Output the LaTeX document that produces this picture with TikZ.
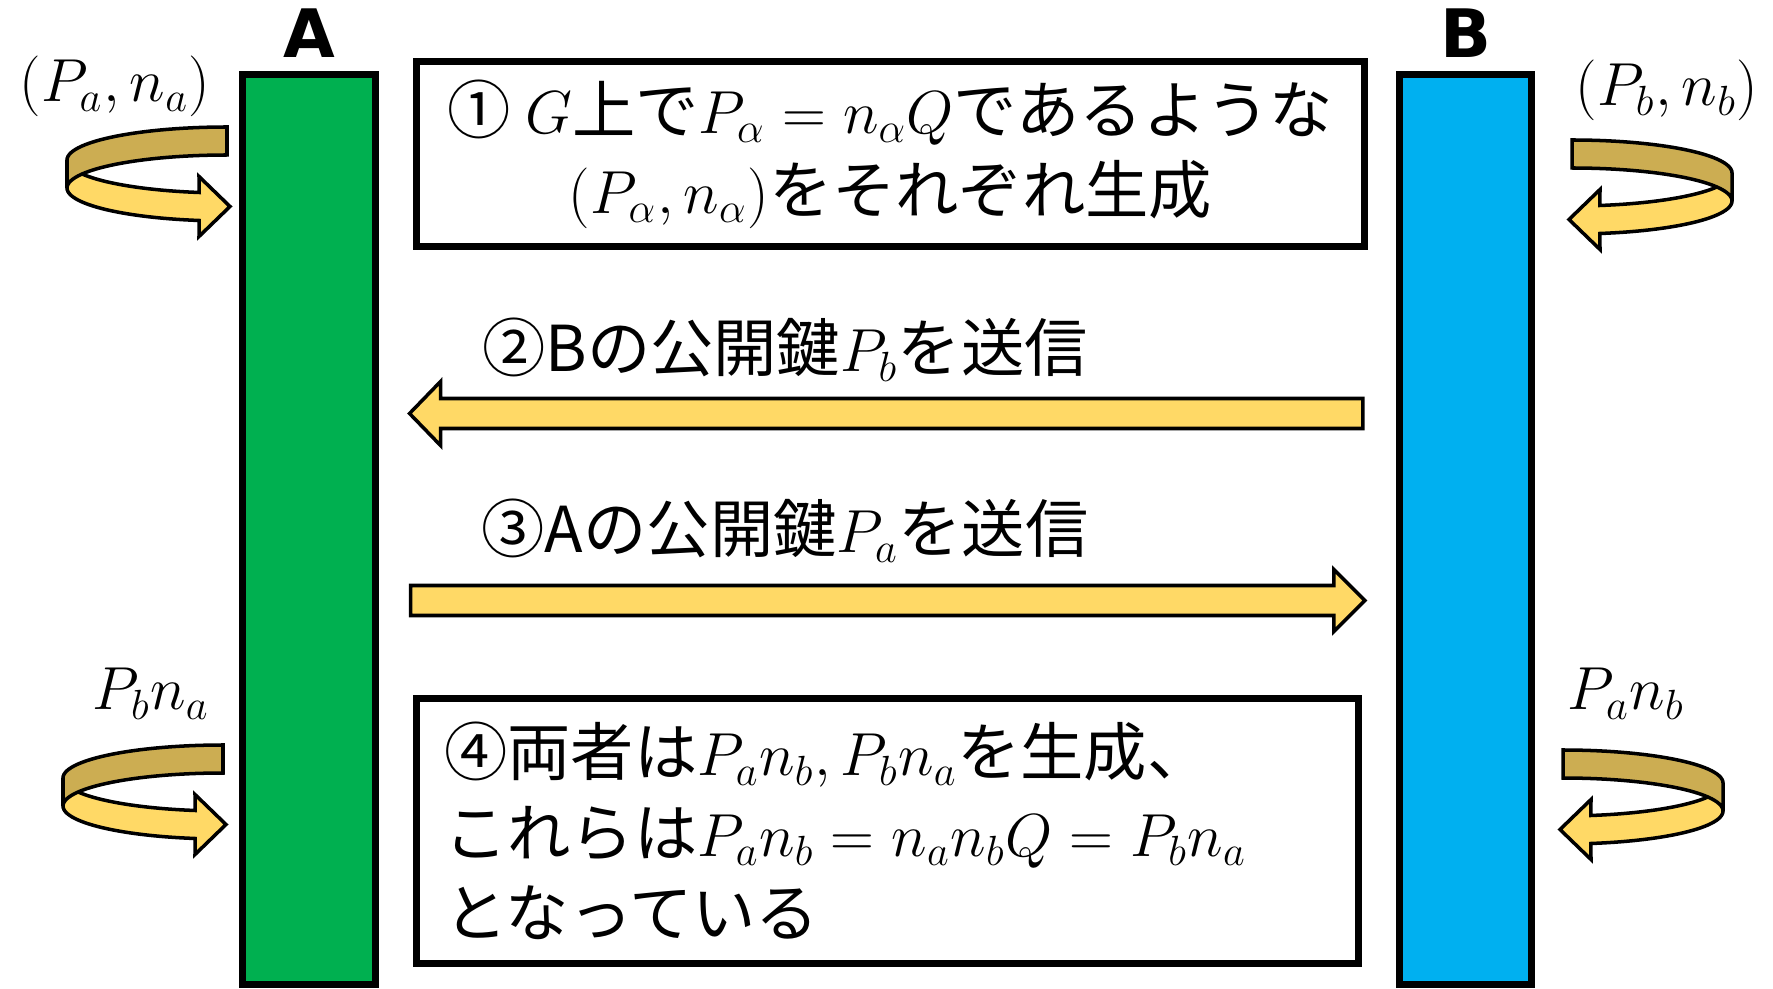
\documentclass[tikz,border=0pt]{standalone}
\usepackage{fontspec}
\setmainfont{Noto Sans CJK JP}
\newfontfamily\futoji{DejaVu Sans}
\usepackage{tikz}
\definecolor{Midori}{RGB}{0, 176, 80}
\definecolor{Ao}{RGB}{0, 176, 240}
\definecolor{Kiiro}{RGB}{255, 217, 102}
\definecolor{Kincha}{RGB}{204, 173, 82}
\usetikzlibrary{positioning, calc}
\tikzset{
    hako/.style = {draw=black, line width=2pt, fill=white, inner sep=0pt},
    hashira/.style = {draw=black, line width=2pt, minimum width=1.32cm, minimum height=9.09cm, inner sep=0pt},
    namae/.style = {font=\futoji\bfseries\fontsize{19pt}{23pt}\selectfont, inner sep=0pt},
    yajirushi/.style = {fill=Kiiro, draw=black, line width=1pt},
    omote/.style = {fill=Kiiro, draw=black, line width=1pt},
    ura/.style = {fill=Kincha, draw=black, line width=1pt},
    kaiten/.pic = {
        \filldraw[omote] plot[domain=180:100, samples=30] ({160*cos(\x)},{33*sin(\x)})
            -- (-28,16.5) -- (3,46.5) -- (-28,76.5)
            -- plot[domain=100:180, samples=30] ({160*cos(\x)},{28+33*sin(\x)}) -- cycle;
        \filldraw[ura] plot[domain=270:180, samples=30] ({160*cos(\x)},{33*sin(\x)})
            -- plot[domain=180:270, samples=30] ({160*cos(\x)},{28+33*sin(\x)}) -- cycle;
    }
}

\begin{document}
\begin{tikzpicture}[
        x=0.01cm, y=-0.01cm,
        font=\fontsize{18pt}{22.8pt}\selectfont
    ]
    \useasboundingbox (0,0) rectangle (1773,989);

    \node[hashira, fill=Midori] (hashiraA) at (309,529.5) {};
    \node[hashira, fill=Ao]     (hashiraB) at (1465.5,529.5) {};
    \node[namae, above=0.13cm of hashiraA] (namaeA) {A};
    \node[namae, above=0.13cm of hashiraB] (namaeB) {B};

    \node[hako, minimum width=9.48cm, minimum height=1.85cm, align=center] (hako1) at (890.5,154)
        {① $G$上で$P_\alpha = n_\alpha Q$であるような\\$(P_\alpha, n_\alpha)$をそれぞれ生成};
    \node[hako, minimum height=2.65cm, text width=8.86cm, inner xsep=0.28cm, align=left] (hako4) at (887.5,831)
        {④両者は$P_a n_b, P_b n_a$を生成、\\これらは${P_a n_b = n_a n_b Q = P_b n_a}$\\となっている};

    % kagi no okuri
    \coordinate (y2) at (0,413.5);
    \coordinate (y3) at (0,600.5);
    \coordinate (saki2) at ($(hashiraA.east |- y2)+(31,0)$);
    \coordinate (moto2) at ($(hashiraB.west |- y2)+(-33,0)$);
    \coordinate (moto3) at ($(hashiraA.east |- y3)+(32,0)$);
    \coordinate (saki3) at ($(hashiraB.west |- y3)+(-31,0)$);

    \draw[yajirushi] ($(moto2)+(0,-15)$) -- ($(saki2)+(31,-15)$) -- ($(saki2)+(31,-32)$) -- (saki2)
        -- ($(saki2)+(31,32)$) -- ($(saki2)+(31,15)$) -- ($(moto2)+(0,15)$) -- cycle;
    \draw[yajirushi] ($(moto3)+(0,-15)$) -- ($(saki3)+(-31,-15)$) -- ($(saki3)+(-31,-31)$) -- (saki3)
        -- ($(saki3)+(-31,31)$) -- ($(saki3)+(-31,15)$) -- ($(moto3)+(0,15)$) -- cycle;

    \node[anchor=base] (setsumei2) at (785,372) {②Bの公開鍵$P_b$を送信};
    \node[anchor=base] (setsumei3) at (785,553) {③Aの公開鍵$P_a$を送信};

    % kaiten yajirushi
    \pic at (227,160) {kaiten};
    \pic at (223,778) {kaiten};
    \pic[xscale=-1] at (1572,173) {kaiten};
    \pic[xscale=-1] at (1563,783) {kaiten};

    \node[anchor=base] (kagiA)  at (115,102)  {$(P_a, n_a)$};
    \node[anchor=base] (kagiB)  at (1667,106) {$(P_b, n_b)$};
    \node[anchor=base] (kyoyuA) at (151,710)  {$P_b n_a$};
    \node[anchor=base] (kyoyuB) at (1626,710) {$P_a n_b$};

\end{tikzpicture}
\end{document}
